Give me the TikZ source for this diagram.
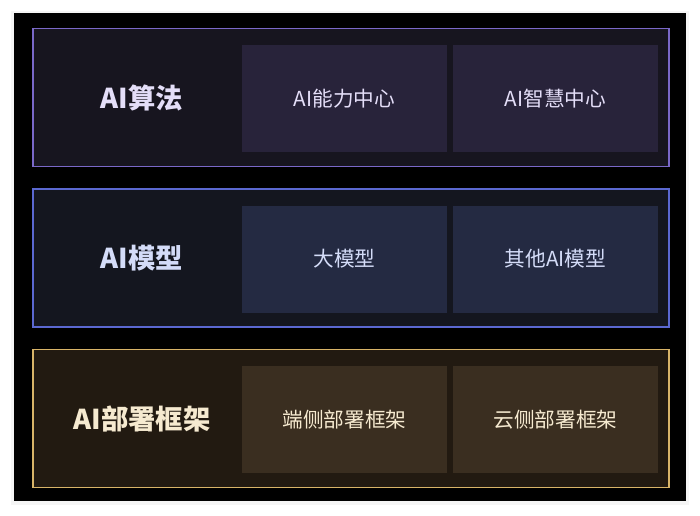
\documentclass[tikz,border=0pt]{standalone}
\usepackage{fontspec}
\setmainfont{Noto Sans CJK SC}
\usepackage{xcolor}
\usepackage{tikz}
\usetikzlibrary{positioning}

\definecolor{algline}{HTML}{7A68C8}
\definecolor{algback}{HTML}{17151F}
\definecolor{algcell}{HTML}{28233A}
\definecolor{algtext}{HTML}{E4DEF8}
\definecolor{modline}{HTML}{5B68D0}
\definecolor{modback}{HTML}{14161F}
\definecolor{modcell}{HTML}{242A42}
\definecolor{modtext}{HTML}{D4DCF8}
\definecolor{depline}{HTML}{D8B468}
\definecolor{depback}{HTML}{221A11}
\definecolor{depcell}{HTML}{3A2E20}
\definecolor{deptext}{HTML}{F6EAD0}

\tikzset{
  layer/.style={draw, line width=0.9pt, minimum width=477pt, minimum height=103pt, inner sep=0pt},
  layername/.style={font=\bfseries\fontsize{20.5}{24}\selectfont},
  cell/.style={minimum width=153.75pt, minimum height=80.25pt, inner sep=0pt, font=\fontsize{15.5}{18}\selectfont}
}

\begin{document}
\begin{tikzpicture}[x=0.75pt,y=-0.75pt]
    \useasboundingbox (0,0) rectangle (700,515);
    \fill [white] (0,0) rectangle (700,515);
    \fill [black!4] (11,11) rectangle (689,505);
    \fill [black] (14,13) rectangle (686,501);

    % AI algorithms
    \node [layer, draw=algline, fill=algback] (alg) at (351,97.5) {};
    \node [layername, text=algtext] (algname) at (142,97.5) {AI算法};
    \node [cell, fill=algcell, text=algtext] (algone) at (344.5,98.5) {AI能力中心};
    \node [cell, fill=algcell, text=algtext] (algtwo) at (555.5,98.5) {AI智慧中心};

    % AI models
    \node [layer, draw=modline, fill=modback, minimum height=103.5pt] (mod) at (351,258) {};
    \node [layername, text=modtext] (modname) at (142,258) {AI模型};
    \node [cell, fill=modcell, text=modtext] (modone) at (344.5,259) {大模型};
    \node [cell, fill=modcell, text=modtext] (modtwo) at (555.5,259) {其他AI模型};

    % AI deployment frameworks
    \node [layer, draw=depline, fill=depback] (dep) at (351,418.5) {};
    \node [layername, text=deptext] (depname) at (142,418.5) {AI部署框架};
    \node [cell, fill=depcell, text=deptext] (depone) at (344.5,419.5) {端侧部署框架};
    \node [cell, fill=depcell, text=deptext] (deptwo) at (555.5,419.5) {云侧部署框架};
\end{tikzpicture}
\end{document}
